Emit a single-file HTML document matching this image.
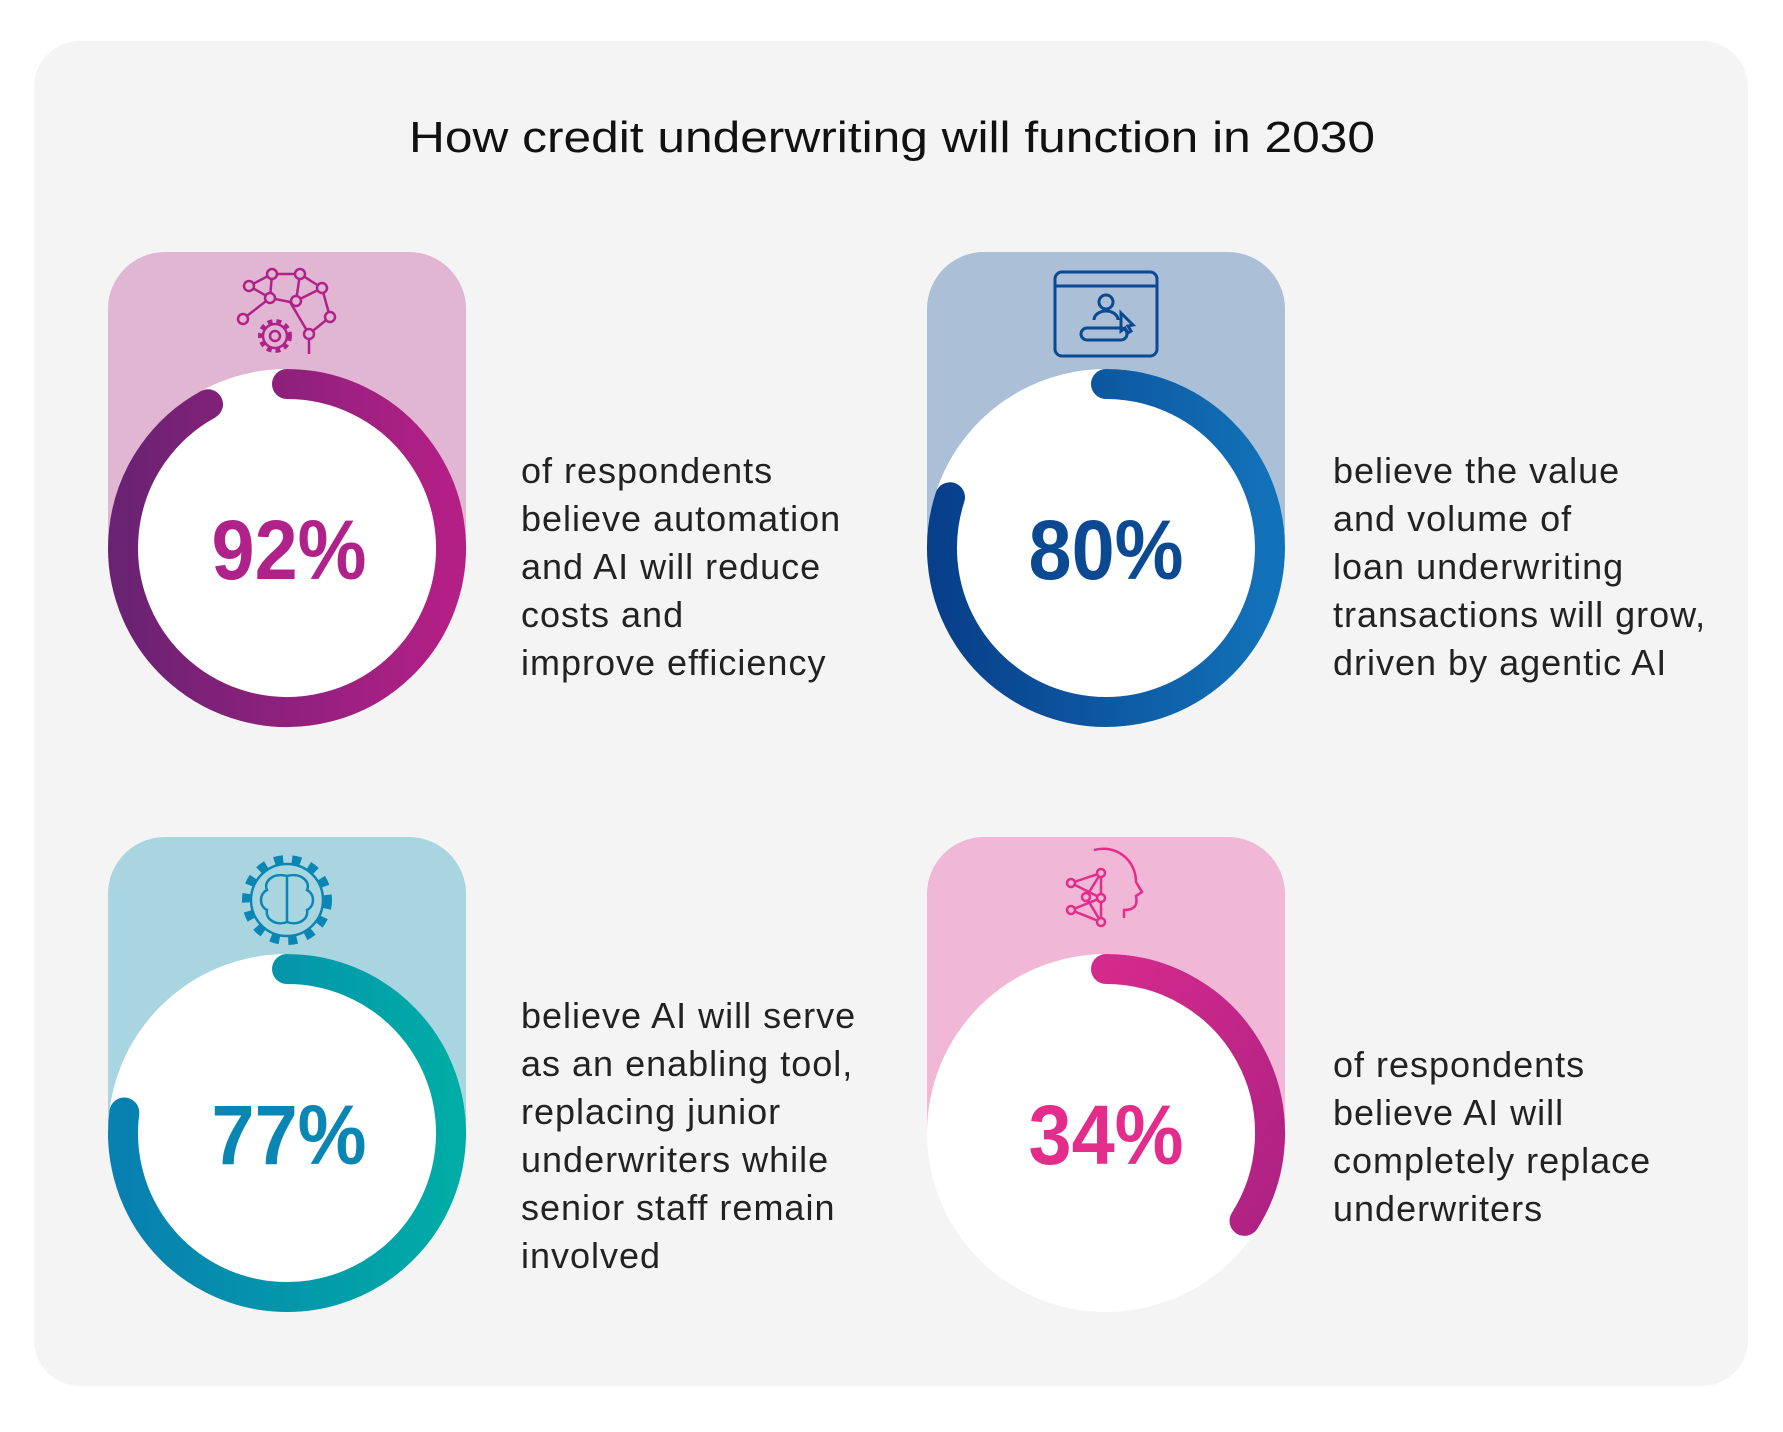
<!DOCTYPE html>
<html><head><meta charset="utf-8"><style>html,body{margin:0;padding:0;background:#fff}svg{display:block}</style></head><body>
<svg width="1783" height="1432" viewBox="0 0 1783 1432" xmlns="http://www.w3.org/2000/svg">
<defs>
<linearGradient id="g1" x1="0" x2="1" y1="0" y2="0"><stop offset="0" stop-color="#6a2272"/><stop offset="1" stop-color="#b41f86"/></linearGradient>
<linearGradient id="g2" x1="0" x2="1" y1="0" y2="0"><stop offset="0" stop-color="#083f8a"/><stop offset="1" stop-color="#1272b9"/></linearGradient>
<linearGradient id="g3" x1="0" x2="1" y1="0" y2="0"><stop offset="0" stop-color="#0880b0"/><stop offset="1" stop-color="#00aca6"/></linearGradient>
<linearGradient id="g4" x1="0" x2="1" y1="0" y2="1"><stop offset="0" stop-color="#d42a8c"/><stop offset="1" stop-color="#ae2283"/></linearGradient>
</defs>
<rect x="0" y="0" width="1783" height="1432" fill="#fff"/>
<rect x="34" y="41" width="1714" height="1345" rx="46" fill="#f4f4f4"/>
<text x="892" y="152" text-anchor="middle" font-family="Liberation Sans, sans-serif" font-size="44" fill="#111" textLength="966" lengthAdjust="spacingAndGlyphs">How credit underwriting will function in 2030</text>

<path d="M108 548 V309 a57 57 0 0 1 57 -57 H409 a57 57 0 0 1 57 57 V548 Z" fill="#e0b6d3"/>
<path d="M927 548 V309 a57 57 0 0 1 57 -57 H1228 a57 57 0 0 1 57 57 V548 Z" fill="#abbfd6"/>
<path d="M108 1133 V894 a57 57 0 0 1 57 -57 H409 a57 57 0 0 1 57 57 V1133 Z" fill="#a9d5e0"/>
<path d="M927 1133 V894 a57 57 0 0 1 57 -57 H1228 a57 57 0 0 1 57 57 V1133 Z" fill="#f0b7d6"/>

<circle cx="287" cy="548" r="179" fill="#fff"/>
<circle cx="1106" cy="548" r="179" fill="#fff"/>
<circle cx="287" cy="1133" r="179" fill="#fff"/>
<circle cx="1106" cy="1133" r="179" fill="#fff"/>

<g fill="none" stroke-width="30" stroke-linecap="round">
<path d="M287 384 A164 164 0 1 1 208 404.3" stroke="url(#g1)"/>
<path d="M1106 384 A164 164 0 1 1 950 497.3" stroke="url(#g2)"/>
<path d="M287 969 A164 164 0 1 1 124.3 1112.5" stroke="url(#g3)"/>
<path d="M1106 969 A164 164 0 0 1 1244.5 1220.9" stroke="url(#g4)"/>
</g>

<g font-family="Liberation Sans, sans-serif" font-weight="bold" font-size="84" text-anchor="middle">
<text x="289" y="579" fill="#b0228a" textLength="155" lengthAdjust="spacingAndGlyphs">92%</text>
<text x="1106" y="579" fill="#0b4a93" textLength="155" lengthAdjust="spacingAndGlyphs">80%</text>
<text x="289" y="1164" fill="#0a86b4" textLength="155" lengthAdjust="spacingAndGlyphs">77%</text>
<text x="1106" y="1164" fill="#e42c8a" textLength="155" lengthAdjust="spacingAndGlyphs">34%</text>
</g>

<g font-family="Liberation Sans, sans-serif" font-size="36" fill="#222" letter-spacing="1">
<text x="521" y="483">of respondents</text>
<text x="521" y="531">believe automation</text>
<text x="521" y="579">and AI will reduce</text>
<text x="521" y="627">costs and</text>
<text x="521" y="675">improve efficiency</text>

<text x="1333" y="483">believe the value</text>
<text x="1333" y="531">and volume of</text>
<text x="1333" y="579">loan underwriting</text>
<text x="1333" y="627">transactions will grow,</text>
<text x="1333" y="675">driven by agentic AI</text>

<text x="521" y="1028">believe AI will serve</text>
<text x="521" y="1076">as an enabling tool,</text>
<text x="521" y="1124">replacing junior</text>
<text x="521" y="1172">underwriters while</text>
<text x="521" y="1220">senior staff remain</text>
<text x="521" y="1268">involved</text>

<text x="1333" y="1077">of respondents</text>
<text x="1333" y="1125">believe AI will</text>
<text x="1333" y="1173">completely replace</text>
<text x="1333" y="1221">underwriters</text>
</g>

<g fill="none" stroke="#b0228a" stroke-width="2.5">
<path d="M249 286 L272 274 L300 274 L322 288 L330 317 L309 334 L290 302 L270 298 L249 286 M272 274 L270 298 L243 319 M300 274 L296 301 L322 288 M309 334 V354"/>
<circle cx="249" cy="286" r="5" fill="#e0b6d3"/><circle cx="272" cy="274" r="5" fill="#e0b6d3"/><circle cx="300" cy="274" r="5" fill="#e0b6d3"/><circle cx="322" cy="288" r="5" fill="#e0b6d3"/><circle cx="330" cy="317" r="5" fill="#e0b6d3"/><circle cx="309" cy="334" r="5" fill="#e0b6d3"/><circle cx="270" cy="298" r="5" fill="#e0b6d3"/><circle cx="296" cy="301" r="5" fill="#e0b6d3"/><circle cx="243" cy="319" r="5" fill="#e0b6d3"/>
<circle cx="275" cy="336" r="15" stroke-width="4" stroke-dasharray="5 4"/><circle cx="275" cy="336" r="12"/><circle cx="275" cy="336" r="5"/>
</g>
<g fill="none" stroke="#0b4a93" stroke-width="3">
<rect x="1055" y="272" width="102" height="84" rx="7"/><line x1="1055" y1="286" x2="1157" y2="286"/>
<circle cx="1106" cy="302" r="7"/><path d="M1094 320 a12 9 0 0 1 24 0"/>
<rect x="1081" y="328" width="46" height="12" rx="6"/><path d="M1121 313 l12 12 l-5 1 l3 5 l-3 2 l-3 -5 l-4 3 z"/>
</g>
<g fill="none" stroke="#0a86b4" stroke-width="2.5">
<circle cx="287" cy="900" r="41" stroke-width="8" stroke-dasharray="9 9"/>
<circle cx="287" cy="900" r="36"/>
<path d="M287 876 c-14 -4 -24 6 -20 14 c-8 4 -8 16 0 20 c-2 10 10 16 20 12 z M287 876 c14 -4 24 6 20 14 c8 4 8 16 0 20 c2 10 -10 16 -20 12 z"/>
</g>
<g fill="none" stroke="#e42c8a" stroke-width="2.5">
<path d="M1094 850 c22 -6 42 10 42 32 l6 10 l-6 4 c2 10 -2 14 -12 14 v8"/>
<path d="M1071 883 L1101 873 L1101 898 L1071 910 L1101 922 L1101 898 L1071 883 M1101 873 L1086 897 L1101 922"/>
<circle cx="1071" cy="883" r="4" fill="#f0b7d6"/><circle cx="1101" cy="873" r="4" fill="#f0b7d6"/><circle cx="1101" cy="898" r="4" fill="#f0b7d6"/><circle cx="1071" cy="910" r="4" fill="#f0b7d6"/><circle cx="1101" cy="922" r="4" fill="#f0b7d6"/><circle cx="1086" cy="897" r="4" fill="#f0b7d6"/>
</g>
</svg>
</body></html>
